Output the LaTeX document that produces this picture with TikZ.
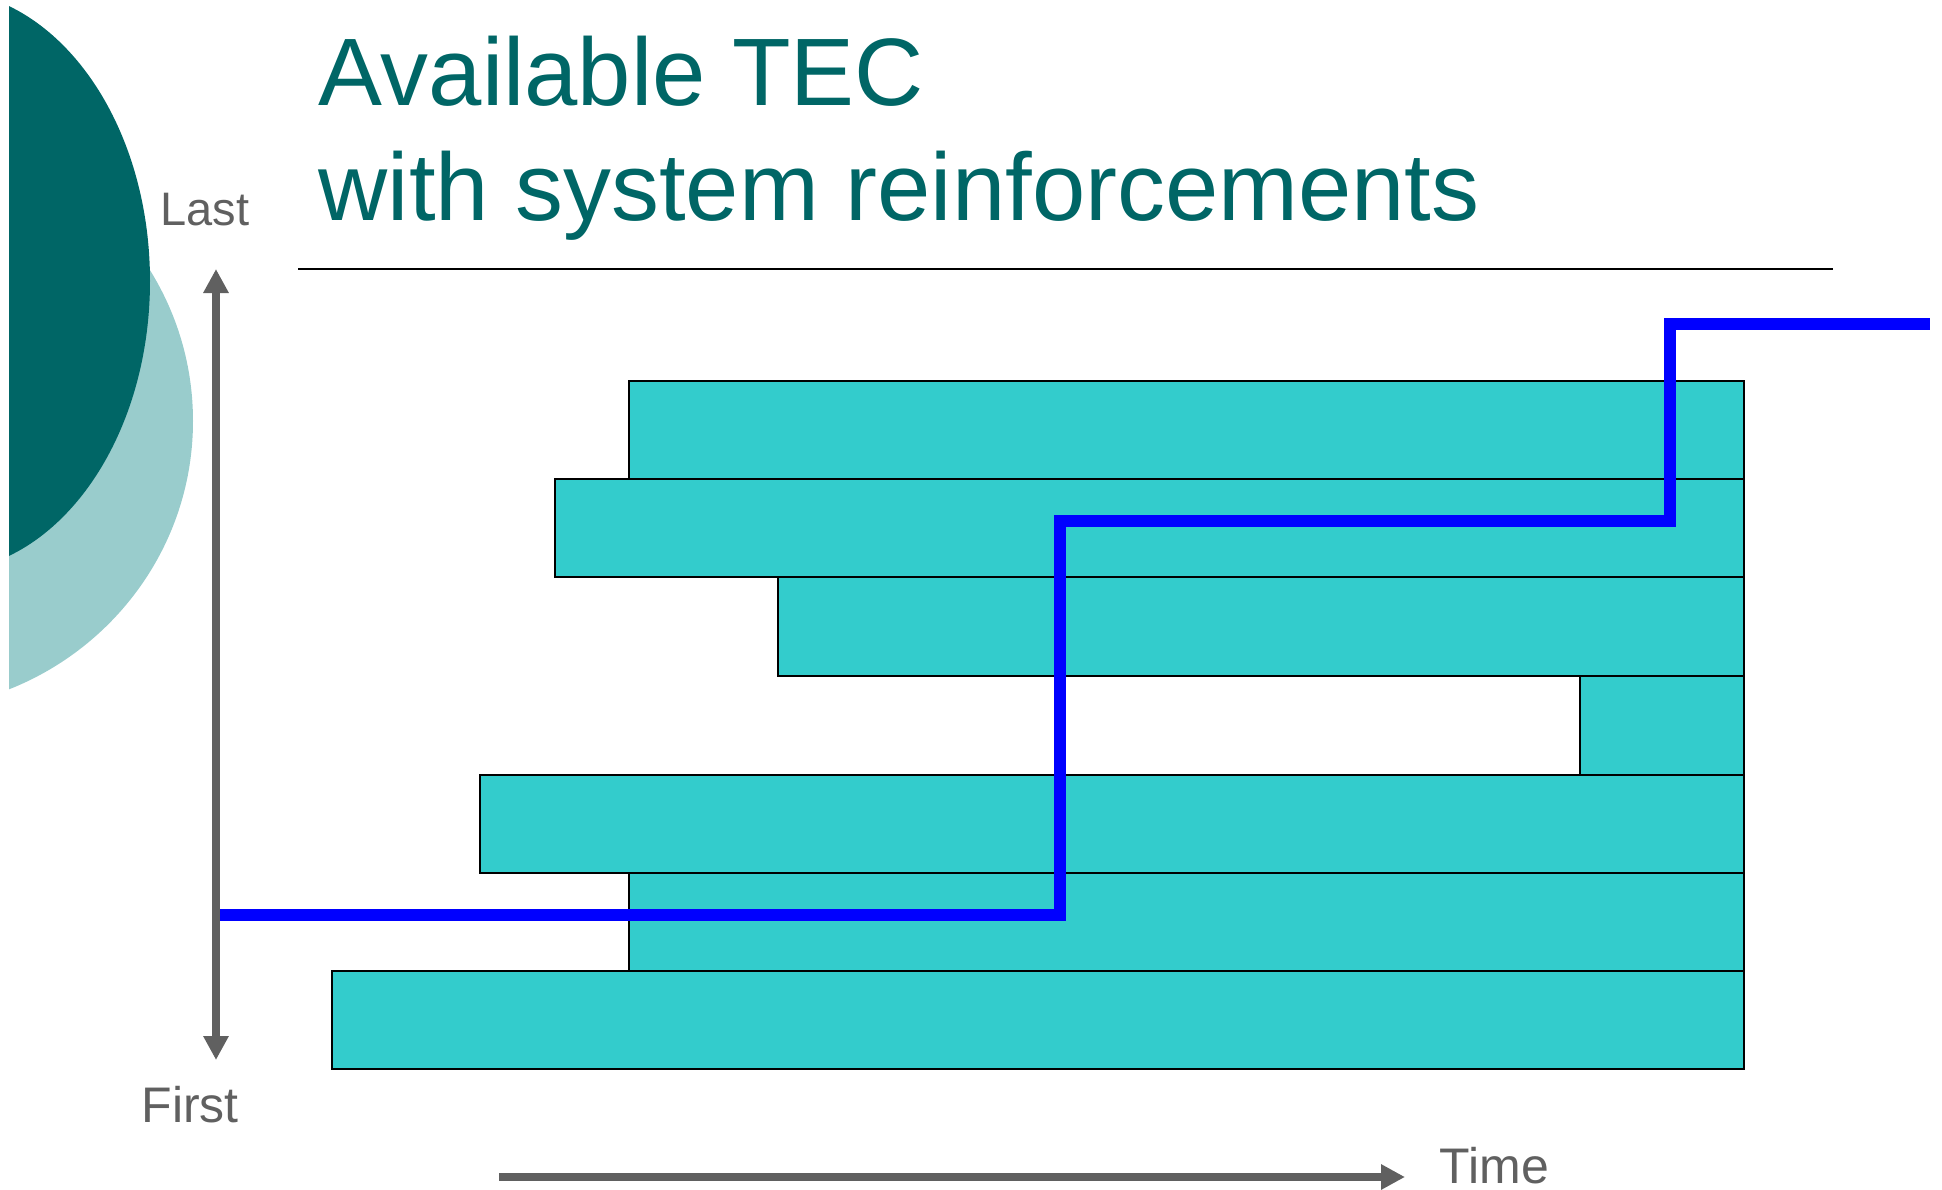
\documentclass[tikz,border=0pt]{standalone}
\usepackage{fontspec}
\setmainfont{Liberation Sans}
\usetikzlibrary{arrows.meta}
\definecolor{deepteal}{RGB}{0,102,102}
\definecolor{paleteal}{RGB}{153,204,204}
\definecolor{barcyan}{RGB}{51,204,204}
\definecolor{axisgray}{RGB}{96,96,96}
\tikzset{axistip/.tip={Triangle[width=7.2pt, length=7.2pt]}}

\begin{document}
\begin{tikzpicture}[x=0.3pt, y=-0.3pt,
	bar/.style={fill=barcyan, draw=black, line width=0.48pt},
	axis/.style={axisgray, line width=2.6pt},
	lbl/.style={inner sep=0pt, text=axisgray},
	heading/.style={inner sep=0pt, anchor=base west, text=deepteal, font=\fontsize{28.75pt}{35pt}\selectfont},
	tec/.style={blue, line width=3.5pt}]
	\useasboundingbox (0,0) rectangle (1942,1190);
	\begin{scope}
		\clip (9,0) rectangle (400,1190);
		\fill [paleteal] (-100,421) ellipse (293 and 289);
		\fill [deepteal] (-60,281) ellipse (210 and 291);
	\end{scope}
	\node [heading] (head1) at (318,105) {Available TEC};
	\node [heading] (head2) at (318,220) {with system reinforcements};
	\draw [line width=0.75pt] (298,269) -- (1833,269);
	\foreach \l/\t/\b in {629/381/479, 555/479/577, 778/577/676, 1580/676/775, 480/775/873, 629/873/971, 332/971/1069}
		\draw [bar] (\l,\t) rectangle (1744,\b);
	\coordinate (A) at (220,915);
	\coordinate (B) at (1060,915);
	\coordinate (C) at (1060,521);
	\coordinate (D) at (1670,521);
	\coordinate (E) at (1670,324);
	\coordinate (F) at (1930,324);
	\draw [tec] (A) -- (B) -- (C) -- (D) -- (E) -- (F);
	\coordinate (G) at (216,269);
	\coordinate (H) at (216,1060);
	\coordinate (I) at (499,1177);
	\coordinate (J) at (1405,1177);
	\draw [axis, axistip-axistip] (G) -- (H);
	\draw [axis, -axistip] (I) -- (J);
	\node [lbl, anchor=base west, font=\fontsize{14.1pt}{17pt}\selectfont] (last) at (160,225) {Last};
	\node [lbl, anchor=base west, font=\fontsize{15pt}{18pt}\selectfont] (first) at (141,1122) {First};
	\node [lbl, anchor=base west, font=\fontsize{15pt}{18pt}\selectfont] (time) at (1439,1183) {Time};
\end{tikzpicture}
\end{document}
